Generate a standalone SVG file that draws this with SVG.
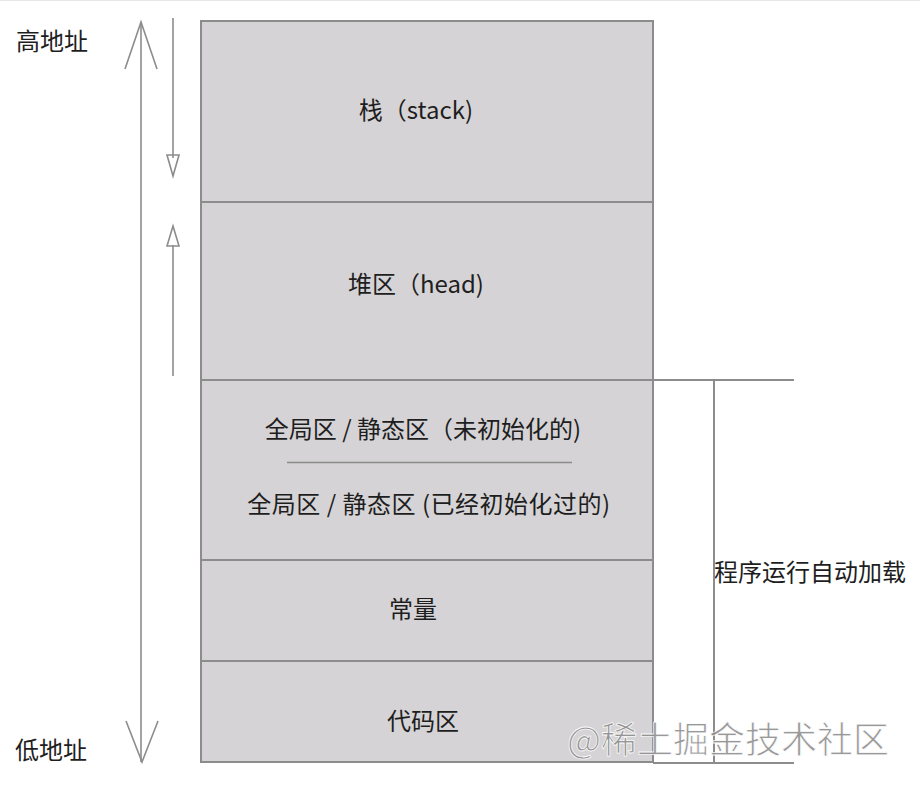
<svg xmlns="http://www.w3.org/2000/svg" width="920" height="788" viewBox="0 0 920 788">
<style>
.t{font-family:"Noto Sans CJK SC","Liberation Sans",sans-serif;font-size:24px;fill:#1e1e1e;text-anchor:middle}
.l{font-family:"Noto Sans CJK SC","Liberation Sans",sans-serif;font-size:24px;fill:#1e1e1e}
.seg{fill:#d5d3d5;stroke:#8c8c8c;stroke-width:2}
.ln{stroke:#8c8c8c;stroke-width:2;fill:none}
.ar{stroke:#8c8c8c;stroke-width:1.6;fill:none}
.wm{font-family:"Noto Sans CJK SC",sans-serif;font-size:36px;fill:#8e8e8e;stroke:#ffffff;stroke-width:0.8;opacity:0.9}
</style>
<rect x="0" y="0" width="920" height="788" fill="#ffffff"/>
<line x1="0" y1="0.5" x2="920" y2="0.5" stroke="#e6e6e6" stroke-width="1"/>
<g id="stack"><rect class="seg" x="201" y="21" width="452" height="181"/><text class="t" x="416" y="119">栈（stack)</text></g>
<g id="heap"><rect class="seg" x="201" y="202" width="452" height="178"/><text class="t" x="416" y="293">堆区（head)</text></g>
<g id="global"><rect class="seg" x="201" y="380" width="452" height="180"/>
<text class="t" x="423" y="438">全局区 / 静态区（未初始化的)</text>
<line x1="287" y1="462.5" x2="572" y2="462.5" stroke="#8c8c8c" stroke-width="1.5"/>
<text class="t" x="429" y="513" letter-spacing="0.5">全局区 / 静态区 (已经初始化过的)</text></g>
<g id="const"><rect class="seg" x="201" y="560" width="452" height="101"/><text class="t" x="413" y="618">常量</text></g>
<g id="code"><rect class="seg" x="201" y="661" width="452" height="101"/><text class="t" x="423" y="730">代码区</text></g>
<g id="labels">
<text class="l" x="16" y="50">高地址</text>
<text class="l" x="15" y="759">低地址</text>
<text class="l" x="714" y="581">程序运行自动加载</text>
</g>
<g id="connectors">
<line class="ar" x1="141" y1="22" x2="141" y2="762"/>
<polyline class="ar" points="125,69 141,22 157,69"/>
<polyline class="ar" points="126,721 142,762 158,721"/>
<line class="ar" x1="173" y1="18" x2="173" y2="158"/>
<polygon class="ar" points="167,155 179,155 173,176"/>
<line class="ar" x1="173" y1="245" x2="173" y2="376"/>
<polygon class="ar" points="167,246 179,246 173,226"/>
<line class="ln" x1="653" y1="380" x2="794" y2="380"/>
<line class="ln" x1="714" y1="380" x2="714" y2="763"/>
<line class="ln" x1="653" y1="763" x2="794" y2="763"/>
</g>
<text class="wm" x="567" y="753">@稀土掘金技术社区</text>
</svg>
